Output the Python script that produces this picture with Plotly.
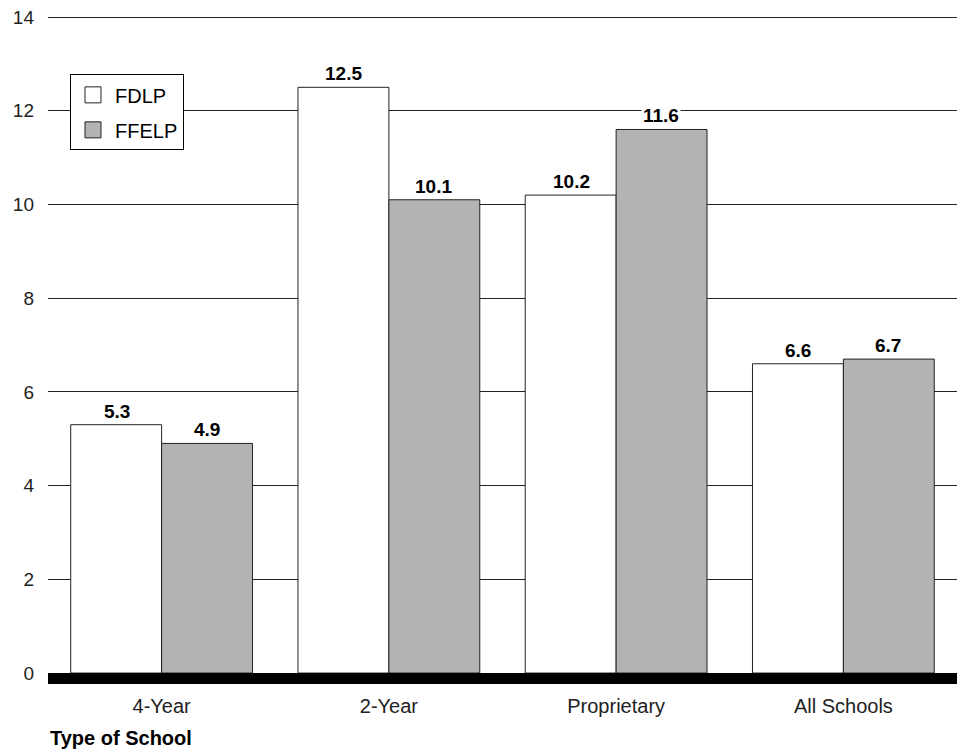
import plotly.graph_objects as go

categories = ["4-Year", "2-Year", "Proprietary", "All Schools"]
fdlp = [5.3, 12.5, 10.2, 6.6]
ffelp = [4.9, 10.1, 11.6, 6.7]
y_ticks = [0, 2, 4, 6, 8, 10, 12, 14]

font = "Liberation Sans, Arial, sans-serif"
edge = "#222222"

fig = go.Figure()
fig.add_trace(go.Bar(
    x=categories, y=fdlp, name="FDLP", legendgroup="a", showlegend=False,
    marker=dict(color="white", line=dict(color=edge, width=1)),
))
fig.add_trace(go.Bar(
    x=categories, y=ffelp, name="FFELP", legendgroup="b", showlegend=False,
    marker=dict(color="#b3b3b3", line=dict(color=edge, width=1)),
))
# legend entries with larger square swatches
fig.add_trace(go.Scatter(
    x=[None], y=[None], mode="markers", name="FDLP", legendgroup="a",
    marker=dict(symbol="square", size=16, color="white", line=dict(color=edge, width=1)),
))
fig.add_trace(go.Scatter(
    x=[None], y=[None], mode="markers", name="FFELP", legendgroup="b",
    marker=dict(symbol="square", size=16, color="#b3b3b3", line=dict(color=edge, width=1)),
))

# value labels with white background (gridlines are broken behind them)
for series, shift in ((fdlp, -45), (ffelp, 45)):
    for cat, v in zip(categories, series):
        fig.add_annotation(x=cat, y=v, text=f"<b>{v}</b>", showarrow=False,
                           xshift=shift, yshift=1, yanchor="bottom",
                           bgcolor="white", borderpad=1,
                           font=dict(size=19, color="black", family=font))

fig.add_shape(type="rect", xref="paper", yref="y", x0=0, x1=1, y0=-0.234, y1=0,
              fillcolor="black", line=dict(width=0), layer="above")

fig.add_annotation(text="<b>Type of School</b>", xref="paper", yref="paper",
                   x=0, y=-0.08, xanchor="left", yanchor="middle", showarrow=False,
                   font=dict(size=20, color="black", family=font))

fig.update_layout(
    width=967, height=753,
    margin=dict(l=40, r=18, t=2, b=77),
    paper_bgcolor="white", plot_bgcolor="white",
    barmode="group", bargap=0.2, bargroupgap=0,
    font=dict(family=font, size=19, color="#222222"),
    showlegend=True,
    legend=dict(x=0.0242, y=0.9045, xanchor="left", yanchor="top",
                bgcolor="white", bordercolor="black", borderwidth=1,
                font=dict(size=20, color="black"), traceorder="grouped",
                tracegroupgap=6, itemsizing="trace", itemwidth=34),
    xaxis=dict(showgrid=False, showline=False, ticks="", tickfont=dict(size=20),
               ticklabelstandoff=8, automargin=False),
    yaxis=dict(range=[-0.234, 14.15], tickvals=y_ticks, showgrid=True,
               gridcolor=edge, gridwidth=1, zeroline=False, showline=False,
               ticks="", tickfont=dict(size=19), ticklabelstandoff=13,
               automargin=False, ticklabeloverflow="allow"),
)

fig.write_html("out.html")
